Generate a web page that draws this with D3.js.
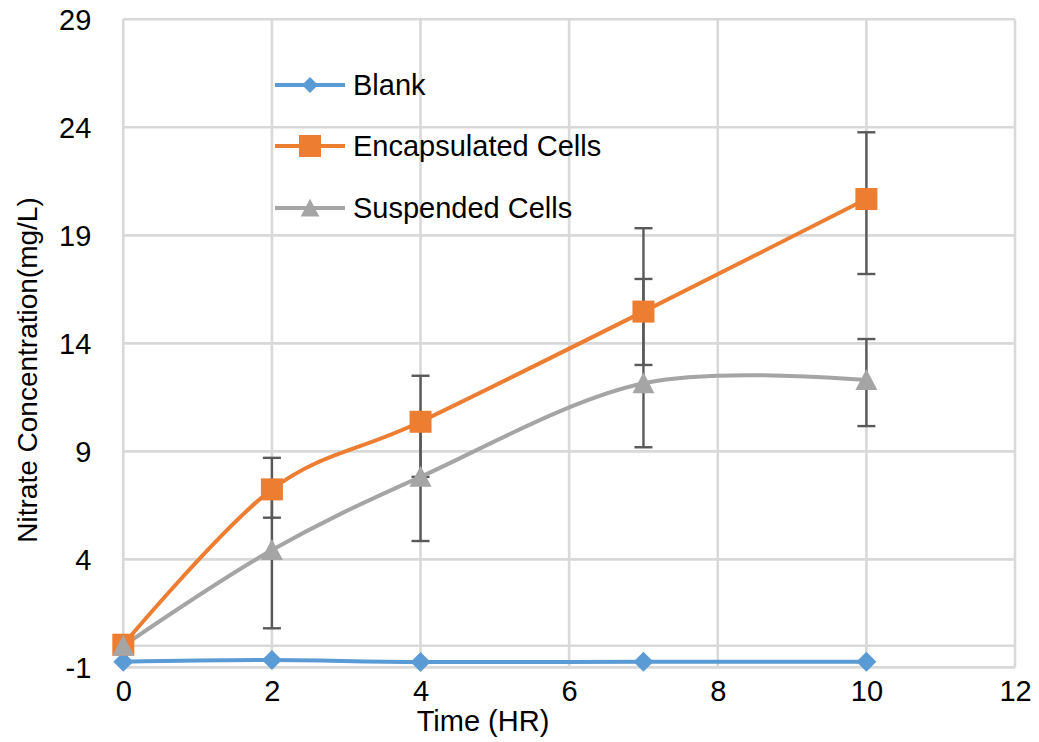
<!DOCTYPE html>
<html>
<head>
<meta charset="utf-8">
<script src="https://cdn.jsdelivr.net/npm/d3@7/dist/d3.min.js"></script>
<style>
  html, body { margin: 0; padding: 0; background: #fff; }
  svg { display: block; }
  text { font-family: "Liberation Sans", Arial, sans-serif; fill: #000; }
</style>
</head>
<body>
<svg id="chart" width="1039" height="742"></svg>
<script>
// ---- data ----
const timeHours = [0, 2, 4, 7, 10];
const blankValues = [-0.74, -0.66, -0.75, -0.74, -0.74];
const encapsulatedValues = [0.05, 7.24, 10.37, 15.47, 20.68];
const encapsulatedErrPlus = [0, 1.46, 2.13, 3.86, 3.09];
const encapsulatedErrMinus = [0, 1.31, 2.55, 2.47, 3.47];
const suspendedValues = [0.0, 4.43, 7.82, 12.15, 12.30];
const suspendedErrPlus = [0, 2.82, 2.55, 4.83, 1.90];
const suspendedErrMinus = [0, 3.62, 2.97, 2.96, 2.13];
const seriesNames = ["Blank", "Encapsulated Cells", "Suspended Cells"];
const xTicks = [0, 2, 4, 6, 8, 10, 12];
const yTicks = [-1, 4, 9, 14, 19, 24, 29];
const xTitle = "Time (HR)";
const yTitle = "Nitrate Concentration(mg/L)";

// ---- layout ----
const svg = d3.select("#chart");
const x = d3.scaleLinear().domain([0, 12]).range([123.3, 1015]);
const y = d3.scaleLinear().domain([-1, 29]).range([667.4, 19.3]);
const gridColor = "#d9d9d9";

const series = [
  { name: seriesNames[0], values: blankValues, color: "#5b9bd5", shape: "diamond" },
  { name: seriesNames[1], values: encapsulatedValues, color: "#ed7d31", shape: "square",
    plus: encapsulatedErrPlus, minus: encapsulatedErrMinus },
  { name: seriesNames[2], values: suspendedValues, color: "#a5a5a5", shape: "triangle",
    plus: suspendedErrPlus, minus: suspendedErrMinus }
];

// gridlines
const grid = svg.append("g");
grid.selectAll("line.h").data(yTicks.concat([0])).join("line")
  .attr("x1", x(0)).attr("x2", x(12))
  .attr("y1", d => y(d)).attr("y2", d => y(d))
  .attr("stroke", gridColor).attr("stroke-width", 2.6);
grid.selectAll("line.v").data(xTicks).join("line")
  .attr("x1", d => x(d)).attr("x2", d => x(d))
  .attr("y1", y(-1)).attr("y2", y(29))
  .attr("stroke", gridColor).attr("stroke-width", 2.6);

// axes (labels only)
const fmt = d => String(d);
const yAxis = d3.axisLeft(y).tickValues(yTicks).tickFormat(fmt).tickSize(0).tickPadding(32);
const yg = svg.append("g").attr("transform", `translate(${x(0)},0)`).call(yAxis);
yg.select(".domain").remove();
yg.selectAll("text").style("font-size", "29px").style("font-family", '"Liberation Sans", Arial, sans-serif').attr("fill", "#000").attr("dy", "0.35em");

const xAxis = d3.axisBottom(x).tickValues(xTicks).tickFormat(fmt).tickSize(0).tickPadding(13);
const xg = svg.append("g").attr("transform", `translate(0,${y(-1)})`).call(xAxis);
xg.select(".domain").remove();
xg.selectAll("text").style("font-size", "29px").style("font-family", '"Liberation Sans", Arial, sans-serif').attr("fill", "#000");

svg.append("text").attr("x", 483).attr("y", 731).attr("text-anchor", "middle")
  .style("font-size", "29px").text(xTitle);
svg.append("text").attr("transform", "translate(37,370) rotate(-90)").attr("text-anchor", "middle")
  .style("font-size", "28px").text(yTitle);

// error bars
const errColor = "#595959";
const eg = svg.append("g");
series.filter(s => s.plus).forEach(s => {
  timeHours.forEach((t, i) => {
    if (!s.plus[i] && !s.minus[i]) return;
    const cx = x(t), top = y(s.values[i] + s.plus[i]), bot = y(s.values[i] - s.minus[i]);
    eg.append("line").attr("x1", cx).attr("x2", cx).attr("y1", top).attr("y2", bot)
      .attr("stroke", errColor).attr("stroke-width", 2.4);
    [top, bot].forEach(yy => eg.append("line").attr("x1", cx - 9).attr("x2", cx + 9)
      .attr("y1", yy).attr("y2", yy).attr("stroke", errColor).attr("stroke-width", 2.4));
  });
});

// lines
const line = d3.line().x(d => x(d[0])).y(d => y(d[1])).curve(d3.curveCardinal.tension(0));
series.forEach(s => {
  svg.append("path").datum(timeHours.map((t, i) => [t, s.values[i]]))
    .attr("d", line).attr("fill", "none").attr("stroke", s.color).attr("stroke-width", 4)
    .attr("stroke-linejoin", "round");
});

// markers
function marker(g, shape, cx, cy, color, scale) {
  scale = scale || 1;
  if (shape === "square") {
    const h = 11 * scale;
    g.append("rect").attr("x", cx - h).attr("y", cy - h).attr("width", 2 * h).attr("height", 2 * h).attr("fill", color);
  } else if (shape === "diamond") {
    const h = 10 * scale;
    g.append("path").attr("d", `M${cx},${cy - h}L${cx + h},${cy}L${cx},${cy + h}L${cx - h},${cy}Z`).attr("fill", color);
  } else {
    const w = 11 * scale, ht = 11 * scale;
    g.append("path").attr("d", `M${cx},${cy - ht}L${cx + w},${cy + ht * 0.9}L${cx - w},${cy + ht * 0.9}Z`).attr("fill", color);
  }
}
const mg = svg.append("g");
series.forEach(s => {
  timeHours.forEach((t, i) => marker(mg, s.shape, x(t), y(s.values[i]), s.color));
});

// legend
const lg = svg.append("g");
const legendY = [85, 146, 208];
series.forEach((s, i) => {
  const ly = legendY[i];
  lg.append("line").attr("x1", 275).attr("x2", 345).attr("y1", ly).attr("y2", ly)
    .attr("stroke", s.color).attr("stroke-width", 4);
  marker(lg, s.shape, 310, ly, s.color, s.shape === "diamond" ? 0.8 : (s.shape === "triangle" ? 0.85 : 1));
  lg.append("text").attr("x", 353).attr("y", ly).attr("dy", "0.35em")
    .style("font-size", "29px").text(s.name);
});
</script>
</body>
</html>
